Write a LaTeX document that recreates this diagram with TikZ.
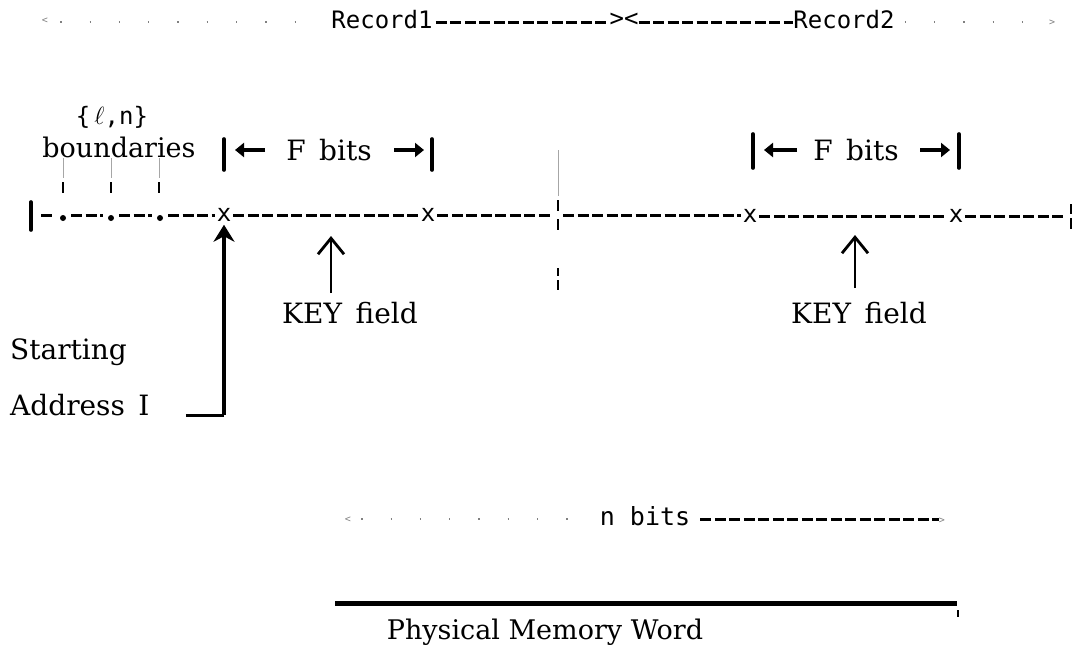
\documentclass[tikz,border=0pt]{standalone}
\usepackage{fontspec}
\setmainfont{DejaVu Serif}
\newfontfamily\typefont{DejaVu Sans Mono}
\usetikzlibrary{arrows.meta}

\begin{document}
\begin{tikzpicture}[x=1pt,y=-1pt,
  serif/.style={font=\fontsize{28}{31}\selectfont, inner sep=0pt},
  mono/.style={font=\typefont\fontsize{24}{26}\selectfont, inner sep=0pt},
  small/.style={font=\typefont\fontsize{10}{12}\selectfont, inner sep=0pt, gray},
  dashrun/.style={line width=3pt, dash pattern=on 11pt off 3.5pt},
  dotrun/.style={gray, line width=1.3pt, dash pattern=on 1.3pt off 28pt},
  bar/.style={line width=3.6pt, line cap=round},
  thin/.style={gray!70, line width=0.7pt},
  tick/.style={line width=2.8pt},
  dotmark/.style={circle, fill, inner sep=0pt, minimum size=6pt},
  fhead/.style={line width=4pt, -{Triangle[length=9pt,width=14pt]}},
  keyarrow/.style={line width=2.8pt, -{Straight Barb[length=16pt,width=26pt,line width=2.8pt]}},
  startarrow/.style={line width=3.2pt, -{Stealth[length=17pt,width=21pt]}}
]
\useasboundingbox (0,0) rectangle (1074,648);

% ---- record header line ----
\node[small] (hl) at (45,21) {<};
\node[mono] (rec1) at (382,20) {Record1};
\node[mono] (mid1) at (624,20) {><};
\node[mono] (rec2) at (844,20) {Record2};
\node[small] (hr) at (1052,23) {>};
\coordinate (hy) at (0,22);
\draw[dotrun] ([xshift=12pt]hl.east |- hy) -- ([xshift=-14pt]rec1.west |- hy);
\draw[dashrun] ([xshift=3pt]rec1.east |- hy) -- (mid1.west |- hy);
\draw[dashrun] (mid1.east |- hy) -- (rec2.west |- hy);
\draw[dotrun] ([xshift=10pt]rec2.east |- hy) -- (hr.west |- hy);

% ---- boundary labels ----
\node[mono, font=\typefont\fontsize{24}{26}\selectfont, anchor=base] (ln) at (112,124) {\{\,$\ell$,n\}};
\node[serif, font=\fontsize{27}{30}\selectfont, anchor=base] (bnd) at (119,157) {boundaries};
\foreach \bx in {63,111,159} {
  \draw[thin] (\bx,158) -- (\bx,178);
  \draw[tick] (\bx,182) -- (\bx,193);
}

% ---- F bits brackets ----
\node[serif, anchor=base] (fl) at (329,160) {F\, bits};
\draw[bar] (224,139) -- (224,170);
\draw[bar] (432,139) -- (432,170);
\draw[fhead] (265,150) -- (235,150);
\draw[fhead] (394,150) -- (424,150);

\node[serif, anchor=base] (fr) at (856,160) {F\, bits};
\draw[bar] (753,134) -- (753,168);
\draw[bar] (959,134) -- (959,168);
\draw[fhead] (797,150) -- (764,150);
\draw[fhead] (920,150) -- (950,150);

% ---- memory line ----
\coordinate (lend) at (31,215);
\draw[bar] (31,202) -- (31,230);
\node[dotmark] (b1) at (63,218) {};
\node[dotmark] (b2) at (111,218) {};
\node[dotmark] (b3) at (160,218) {};
\node[mono] (x1) at (224,215) {x};
\node[mono] (x2) at (428,215) {x};
\coordinate (mid) at (558,215);
\node[mono] (x3) at (750,216) {x};
\node[mono] (x4) at (956,216) {x};
\coordinate (rend) at (1071,216);

\draw[dashrun] ([xshift=10pt]lend) -- ([xshift=-5pt]b1.west |- lend);
\draw[dashrun] ([xshift=5pt]b1.east |- lend) -- ([xshift=-5pt]b2.west |- lend);
\draw[dashrun] ([xshift=5pt]b2.east |- lend) -- ([xshift=-5pt]b3.west |- lend);
\draw[dashrun] ([xshift=5pt]b3.east |- lend) -- ([xshift=-2pt]x1.west);
\draw[dashrun] ([xshift=2pt]x1.east) -- ([xshift=-2pt]x2.west);
\draw[dashrun] ([xshift=2pt]x2.east) -- ([xshift=-5pt]mid);
\draw[dashrun] ([xshift=5pt]mid) -- ([xshift=-2pt]x3.west |- mid);
\draw[dashrun] ([xshift=2pt]x3.east) -- ([xshift=-2pt]x4.west);
\draw[dashrun] ([xshift=2pt]x4.east) -- ([xshift=-6pt]rend);
\draw[tick] (1071,204) -- (1071,214);
\draw[tick] (1071,218) -- (1071,229);

% ---- record divider ----
\draw[thin] (558,150) -- (558,196);
\draw[tick] (558,200) -- (558,211);
\draw[tick] (558,219) -- (558,230);
\draw[tick] (558,268) -- (558,276);
\draw[tick] (558,280) -- (558,290);

% ---- KEY field pointers ----
\node[serif] (keyl) at (350,313) {KEY\, field};
\node[serif] (keyr) at (859,313) {KEY\, field};
\coordinate (kl) at (331,236);
\coordinate (kr) at (855,235);
\draw[keyarrow] (331,293) -- (kl);
\draw[keyarrow] (855,288) -- (kr);

% ---- starting address ----
\node[serif, anchor=west] (start) at (10,352) {Starting};
\node[serif, anchor=west] (addr) at (10,405) {Address\, I};
\coordinate (corner) at (224,415);
\draw[line width=3pt] ([xshift=36pt]addr.east |- corner) -- (corner);
\draw[startarrow] (corner) -- ([yshift=-3pt]x1.south);

% ---- physical word ----
\node[small] (nl) at (348,520) {<};
\node[mono, font=\typefont\fontsize{25}{27}\selectfont] (nb) at (645,516) {n bits};
\node[small] (nr) at (942,521) {>};
\coordinate (ny) at (0,519);
\draw[dotrun] ([xshift=10pt]nl.east |- ny) -- ([xshift=-8pt]nb.west |- ny);
\draw[dashrun] ([xshift=10pt]nb.east |- ny) -- (nr.west |- ny);
\coordinate (wl) at (335,603);
\coordinate (wr) at (957,603);
\draw[line width=5pt] (wl) -- (wr);
\draw[line width=2pt] (958,610) -- (958,617);
\node[serif, font=\fontsize{27}{30}\selectfont, anchor=base] (phys) at (545,639) {Physical Memory Word};
\end{tikzpicture}
\end{document}
